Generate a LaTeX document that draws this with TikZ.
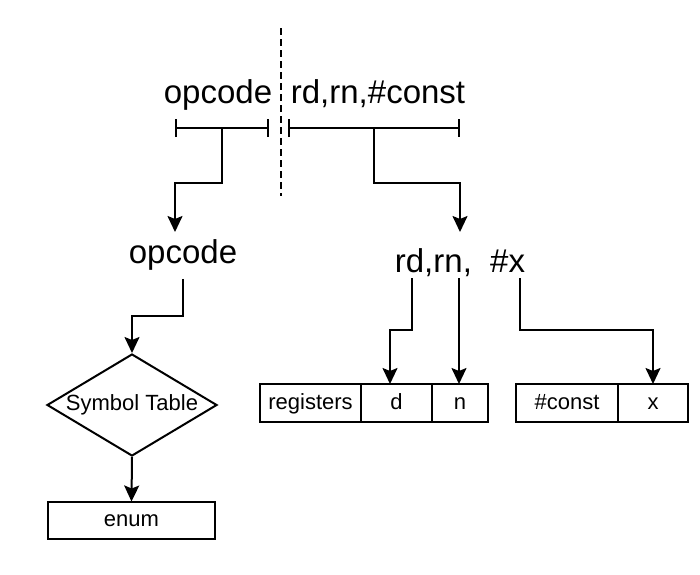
\documentclass[tikz,border=0pt]{standalone}
\usepackage{fontspec}
\setmainfont{Liberation Sans}
\usepackage{tikz}
\usetikzlibrary{arrows.meta,positioning,calc,shapes.geometric}
\newcommand{\bigtxt}{\fontsize{33}{40}\selectfont}
\newcommand{\smalltxt}{\fontsize{22}{26}\selectfont}

\begin{document}
\begin{tikzpicture}[x=1pt,y=-1pt,line width=2pt,
    lbl/.style={font=\bigtxt,inner sep=0pt,anchor=base},
    field/.style={draw,font=\smalltxt,minimum height=38pt,inner sep=0pt,outer sep=0pt,text height=16pt,text depth=4pt,anchor=west},
    arr/.style={-{Stealth[length=16pt,width=15pt,inset=3pt]}},
    brk/.style={{Bar[width=18pt]}-{Bar[width=18pt]}}]
    \useasboundingbox (0,0) rectangle (700,574);
    % instruction split
    \draw[dash pattern=on 7pt off 4pt] (281,28) -- (281,196);
    \node[lbl] (opsrc) at (218,103) {opcode};
    \node[lbl] (argsrc) at (378,103) {rd,rn,\#const};
    \coordinate (opL) at (175,128); \coordinate (opR) at (269,128);
    \coordinate (argL) at (288,128); \coordinate (argR) at (460,128);
    \draw[brk] (opL) -- (opR);
    \draw[brk] (argL) -- (argR);
    % parts
    \node[lbl] (opmid) at (183,263) {opcode};
    \node[lbl] (argmid) at (460,272) {rd,rn,\ \ \#x};
    \coordinate (opin) at (175,232); \coordinate (argin) at (460,232);
    \draw[arr] ($(opL)!0.5!(opR)$) -- ++(0,55) -| (opin);
    \draw[arr] ($(argL)!0.5!(argR)$) -- ++(0,55) -| (argin);
    % opcode lookup
    \node[draw,diamond,aspect=1.667,font=\smalltxt,minimum width=170pt,minimum height=102pt,inner sep=0pt,text height=16pt,text depth=5pt] (symtab) at (132,405) {Symbol Table};
    \node[field,minimum width=167pt,minimum height=37pt] (enum) at (48,520) {enum};
    \draw[arr] ([yshift=-8pt]opmid.south) -- ++(0,37) -| (symtab.north);
    \draw[arr] (symtab.south) -- (enum.north);
    % operand fields
    \node[field,minimum width=101pt] (regs) at (260,403) {registers};
    \node[field,minimum width=71pt,right=0pt of regs] (dreg) {d};
    \node[field,minimum width=56pt,right=0pt of dreg] (nreg) {n};
    \node[field,minimum width=102pt] (cst) at (516,403) {\#const};
    \node[field,minimum width=70pt,right=0pt of cst] (xval) {x};
    \coordinate (rdpt) at (412,278); \coordinate (rnpt) at (459,278); \coordinate (xpt) at (520,278);
    \draw[arr] (rdpt) -- ++(0,52) -| ([xshift=-6.5pt]dreg.north);
    \draw[arr] (rnpt) -- (rnpt |- nreg.north);
    \draw[arr] (xpt) -- ++(0,52) -| (xval.north);
\end{tikzpicture}
\end{document}
